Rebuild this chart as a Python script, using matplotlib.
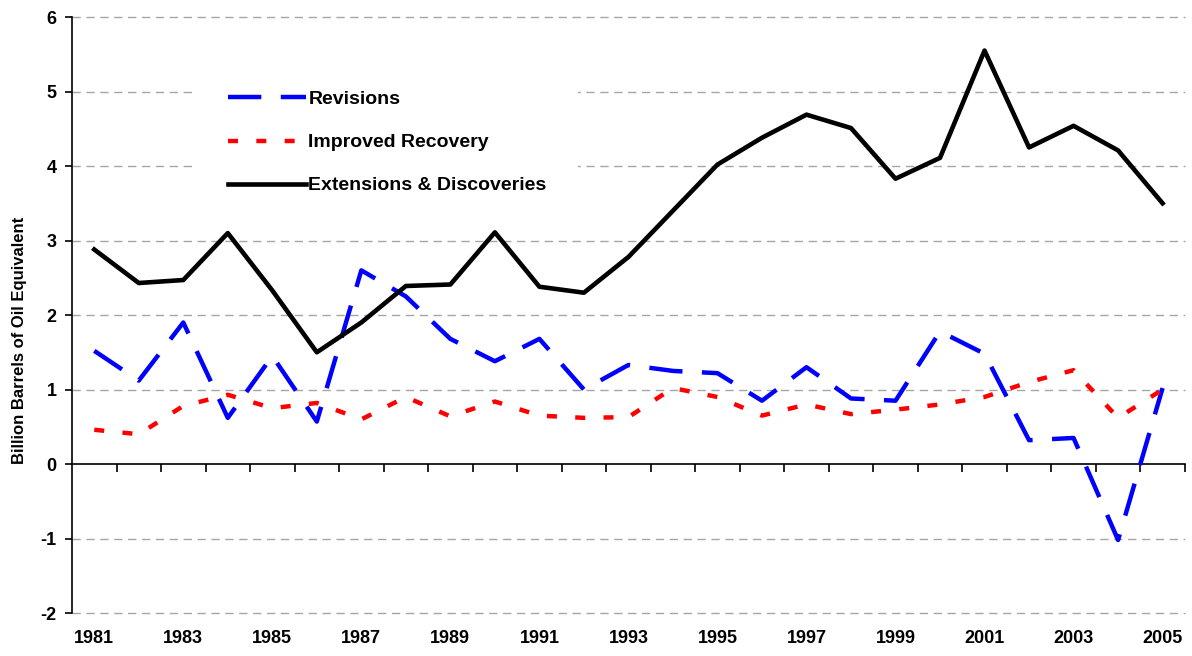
import numpy as np
import matplotlib
matplotlib.use("Agg")
import matplotlib.pyplot as plt

plt.rcParams['font.family'] = ['Liberation Sans', 'DejaVu Sans']
plt.rcParams['font.weight'] = 'bold'
plt.rcParams['axes.labelweight'] = 'bold'
plt.rcParams['axes.unicode_minus'] = False
plt.rcParams['lines.scale_dashes'] = False

# === data (billion barrels of oil equivalent) ===
years = list(range(1981, 2006))
revisions = [1.52, 1.12, 1.90, 0.62, 1.45, 0.57, 2.60, 2.25, 1.68, 1.38,
             1.68, 1.00, 1.33, 1.25, 1.22, 0.85, 1.30, 0.88, 0.85, 1.78,
             1.48, 0.32, 0.35, -1.02, 1.02]
improved = [0.46, 0.40, 0.78, 0.93, 0.75, 0.82, 0.60, 0.90, 0.64, 0.84,
            0.65, 0.62, 0.63, 1.02, 0.90, 0.65, 0.80, 0.67, 0.73, 0.80,
            0.90, 1.10, 1.26, 0.62, 1.00]
extensions = [2.88, 2.43, 2.47, 3.10, 2.33, 1.50, 1.90, 2.39, 2.41, 3.11,
              2.38, 2.30, 2.78, 3.40, 4.02, 4.38, 4.69, 4.51, 3.83, 4.11,
              5.55, 4.25, 4.54, 4.21, 3.50]
yticks = list(range(-2, 7))

fig = plt.figure(figsize=(11.92, 6.56), dpi=100)
ax = fig.add_axes([0.0604, 0.0655, 0.9336, 0.9085])

# gridlines (dashed gray), none at zero
for v in yticks:
    if v != 0:
        ax.axhline(v, color='#a6a6a6', lw=1.0, linestyle=(0, (6, 4)),
                   zorder=0, clip_on=False)

ax.plot(years, revisions, color='#0000ff', lw=3.2, linestyle=(0, (24, 14)),
        dash_capstyle='butt', label='Revisions', zorder=3)
ax.plot(years, improved, color='#ff0000', lw=3.2, linestyle=(0, (7.2, 13.2)),
        dash_capstyle='butt', label='Improved Recovery', zorder=3)
ax.plot(years, extensions, color='black', lw=3.3, label='Extensions & Discoveries',
        zorder=4)

ax.set_xlim(1980.5, 2005.5)
ax.set_ylim(-2, 6)
ax.set_yticks(yticks)
ax.tick_params(axis='y', direction='out', length=5, width=1.2, pad=6, labelsize=13)

# year labels at the bottom, no marks
ax.set_xticks(years[::2])
ax.set_xticklabels([str(y) for y in years[::2]])
ax.tick_params(axis='x', length=0, pad=12, labelsize=13)

for s in ['top', 'right', 'bottom']:
    ax.spines[s].set_visible(False)
ax.spines['left'].set_linewidth(1.2)

# category axis line at zero with marks between years
sec = ax.secondary_xaxis(0.25)
sec.set_xticks(np.arange(1981.5, 2006, 1.0))
sec.set_xticklabels([])
sec.tick_params(direction='out', length=6, width=1.2)
sec.spines['bottom'].set_linewidth(1.2)

ax.set_ylabel('Billion Barrels of Oil Equivalent', fontsize=12)
ax.yaxis.set_label_coords(-0.040, 0.458)

leg = ax.legend(loc='upper left', bbox_to_anchor=(0.1033, 0.945), frameon=True,
                fontsize=14, handlelength=4.0, handletextpad=0.15,
                labelspacing=1.31, borderpad=1.6)
leg.get_frame().set_facecolor('white')
leg.get_frame().set_edgecolor('none')
leg.get_frame().set_alpha(1)
leg.set_zorder(2)

plt.savefig('out.png', dpi=100)
